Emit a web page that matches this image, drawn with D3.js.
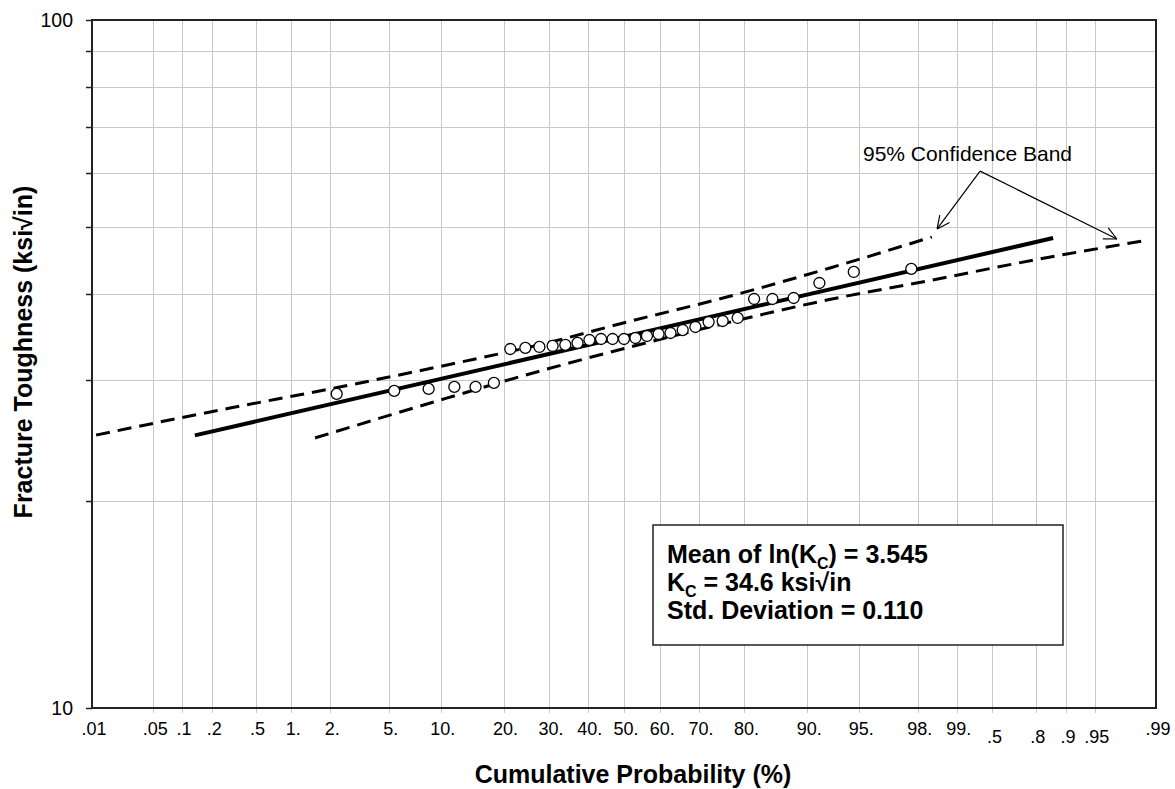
<!DOCTYPE html>
<html><head><meta charset="utf-8">
<script src="https://cdn.jsdelivr.net/npm/d3@7"></script>
<style>
body{margin:0;background:#fff}
text{font-family:"Liberation Sans",Arial,Helvetica,sans-serif;fill:#000}
</style>
</head><body>
<svg id="chart" width="1175" height="789"></svg>
<script>
// ---------- data ----------
const xTickValues = [0.01,0.05,0.1,0.2,0.5,1,2,5,10,20,30,40,50,60,70,80,90,95,98,99,99.5,99.8,99.9,99.95,99.99];
const xTickLabels = [".01",".05",".1",".2",".5","1.","2.","5.","10.","20.","30.","40.","50.","60.","70.","80.","90.","95.","98.","99.",".5",".8",".9",".95",".99"];
const yGridValues = [20,30,40,50,60,70,80,90];
const yTickValues = [10,100];
const yTickLabels = ["10","100"];

const dataProb = [2.23,5.41,8.60,11.78,14.97,18.15,21.34,24.52,27.71,30.89,34.08,37.26,40.45,43.63,46.82,50.00,53.18,56.37,59.55,62.74,65.92,69.11,72.29,75.48,78.66,81.85,85.03,88.22,91.40,94.59,97.77];
const dataK = [28.61,28.90,29.09,29.29,29.29,29.68,33.25,33.37,33.48,33.59,33.71,33.93,34.27,34.38,34.38,34.38,34.50,34.73,34.96,35.08,35.43,35.79,36.39,36.52,36.89,39.31,39.31,39.44,41.47,43.03,43.47];

const fitProb = [0.135, 99.865];
const fitK = [24.9, 48.2];

const upperProb = [0.0112, 0.294, 1.99, 9.56, 29.5, 50.8, 76.4, 92.5, 98.43];
const upperK = [24.93, 27.29, 29.09, 31.30, 33.93, 36.39, 39.57, 43.61, 48.37];

const lowerProb = [1.54, 9.56, 29.5, 51.7, 72.6, 92.2, 98.29, 99.818, 99.9875];
const lowerK = [24.69, 27.94, 31.09, 33.48, 35.79, 39.17, 41.74, 44.95, 47.88];

const xTitle = "Cumulative Probability (%)";
const yTitle = "Fracture Toughness (ksi\u221Ain)";
const bandLabel = "95% Confidence Band";
const statsLines = [
  ["Mean of ln(K", "C", ") = 3.545"],
  ["K", "C", " = 34.6 ksi\u221Ain"],
  ["Std. Deviation = 0.110", "", ""]
];

// ---------- scales ----------
function probit(p){
  const a=[-3.969683028665376e+01,2.209460984245205e+02,-2.759285104469687e+02,1.383577518672690e+02,-3.066479806614716e+01,2.506628277459239e+00];
  const b=[-5.447609879822406e+01,1.615858368580409e+02,-1.556989798598866e+02,6.680131188771972e+01,-1.328068155288572e+01];
  const c=[-7.784894002430293e-03,-3.223964580411365e-01,-2.400758277161838e+00,-2.549732539343734e+00,4.374664141464968e+00,2.938163982698783e+00];
  const d=[7.784695709041462e-03,3.224671290700398e-01,2.445134137142996e+00,3.754408661907416e+00];
  const pl=0.02425, ph=1-pl; let q,r;
  if(p<pl){q=Math.sqrt(-2*Math.log(p));return (((((c[0]*q+c[1])*q+c[2])*q+c[3])*q+c[4])*q+c[5])/((((d[0]*q+d[1])*q+d[2])*q+d[3])*q+1);}
  if(p<=ph){q=p-0.5;r=q*q;return (((((a[0]*r+a[1])*r+a[2])*r+a[3])*r+a[4])*r+a[5])*q/(((((b[0]*r+b[1])*r+b[2])*r+b[3])*r+b[4])*r+1);}
  q=Math.sqrt(-2*Math.log(1-p));return -(((((c[0]*q+c[1])*q+c[2])*q+c[3])*q+c[4])*q+c[5])/((((d[0]*q+d[1])*q+d[2])*q+d[3])*q+1);
}
const L=92, R=1156, T=20, B=708;
const xz = d3.scaleLinear().domain([probit(0.0001), probit(0.9999)]).range([L,R]);
const x = p => xz(probit(p/100));
const y = d3.scaleLog().domain([10,100]).range([B,T]);

const svg = d3.select("#chart");

// ---------- grid ----------
const grid = svg.append("g").attr("stroke","#c8c8c8").attr("stroke-width",1);
grid.selectAll("line.v").data(xTickValues.slice(1,-1)).enter().append("line")
  .attr("x1",d=>Math.round(x(d))+0.5).attr("x2",d=>Math.round(x(d))+0.5)
  .attr("y1",T).attr("y2",B+5);
grid.selectAll("line.h").data(yGridValues).enter().append("line")
  .attr("x1",L).attr("x2",R)
  .attr("y1",d=>Math.round(y(d))+0.5).attr("y2",d=>Math.round(y(d))+0.5);

// y ticks (outward)
svg.append("g").attr("stroke","#222").attr("stroke-width",1.5)
  .selectAll("line").data(yGridValues.concat(yTickValues)).enter().append("line")
  .attr("x1",L-6).attr("x2",L).attr("y1",d=>Math.round(y(d))+0.5).attr("y2",d=>Math.round(y(d))+0.5);

// frame
svg.append("rect").attr("x",L).attr("y",T).attr("width",R-L).attr("height",B-T)
  .attr("fill","none").attr("stroke","#222").attr("stroke-width",2);

// x tick labels
const lowered = new Set([20,21,22,23]);
svg.append("g").selectAll("text").data(xTickValues).enter().append("text")
  .attr("x",d=>x(d)+2).attr("y",(d,i)=>lowered.has(i)?743:735)
  .attr("text-anchor","middle").attr("font-size",18)
  .text((d,i)=>xTickLabels[i]);

// y tick labels
svg.append("g").selectAll("text").data(yTickValues).enter().append("text")
  .attr("x",73).attr("y",d=>y(d)+7).attr("text-anchor","end").attr("font-size",19.5)
  .text((d,i)=>yTickLabels[i]);

// titles
svg.append("text").attr("x",633).attr("y",783).attr("text-anchor","middle")
  .attr("font-size",25).attr("font-weight","bold").text(xTitle);
svg.append("text").attr("transform","translate(32,352) rotate(-90)")
  .attr("text-anchor","middle").attr("font-size",25).attr("font-weight","bold").text(yTitle);

// ---------- series ----------
const line = d3.line().x(d=>x(d[0])).y(d=>y(d[1])).curve(d3.curveMonotoneX);
svg.append("path").datum(upperProb.map((p,i)=>[p,upperK[i]])).attr("d",line)
  .attr("fill","none").attr("stroke","#000").attr("stroke-width",3).attr("stroke-dasharray","14,8");
svg.append("path").datum(lowerProb.map((p,i)=>[p,lowerK[i]])).attr("d",line)
  .attr("fill","none").attr("stroke","#000").attr("stroke-width",3).attr("stroke-dasharray","14,8");
svg.append("path").datum(fitProb.map((p,i)=>[p,fitK[i]])).attr("d",d3.line().x(d=>x(d[0])).y(d=>y(d[1])))
  .attr("fill","none").attr("stroke","#000").attr("stroke-width",4);

svg.append("g").selectAll("circle").data(dataProb).enter().append("circle")
  .attr("cx",d=>x(d)).attr("cy",(d,i)=>y(dataK[i])).attr("r",5.5)
  .attr("fill","#fff").attr("stroke","#000").attr("stroke-width",1.3);

// ---------- annotation ----------
svg.append("text").attr("x",863).attr("y",161).attr("font-size",21).text(bandLabel);
const origin = [x(99.36), y(60.3)];
const tips = [[x(98.57), y(49.7)], [x(99.9715), y(48.05)]];
const ag = svg.append("g").attr("stroke","#000").attr("stroke-width",1.2).attr("fill","none");
tips.forEach(t=>{
  ag.append("line").attr("x1",origin[0]).attr("y1",origin[1]).attr("x2",t[0]).attr("y2",t[1]);
  const ang = Math.atan2(t[1]-origin[1], t[0]-origin[0]);
  const len = 14, spread = Math.PI/7;
  [ang+Math.PI-spread, ang+Math.PI+spread].forEach(a=>{
    ag.append("line").attr("x1",t[0]).attr("y1",t[1])
      .attr("x2",t[0]+len*Math.cos(a)).attr("y2",t[1]+len*Math.sin(a));
  });
});

// stats box
svg.append("rect").attr("x",653).attr("y",525).attr("width",410).attr("height",120)
  .attr("fill","#fff").attr("stroke","#222").attr("stroke-width",1.5);
const st = svg.append("g").attr("font-weight","bold");
statsLines.forEach((ln,i)=>{
  const t = st.append("text").attr("x",667).attr("y",563+i*28).attr("font-size",25);
  t.append("tspan").text(ln[0]);
  if(ln[1]){
    t.append("tspan").attr("font-size",16).attr("dy",6).text(ln[1]);
    t.append("tspan").attr("dy",-6).text(ln[2]);
  }
});
</script>
</body></html>
